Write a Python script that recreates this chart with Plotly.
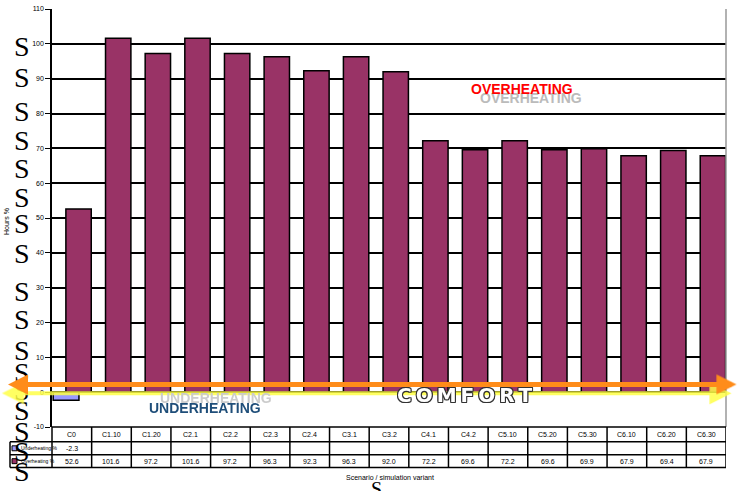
import plotly.graph_objects as go

# ---------------- data ----------------
categories = ["C0", "C1.10", "C1.20", "C2.1", "C2.2", "C2.3", "C2.4", "C3.1", "C3.2",
              "C4.1", "C4.2", "C5.10", "C5.20", "C5.30", "C6.10", "C6.20", "C6.30"]
series_names = ["Underheating %", "Overheating %"]
underheating = [-2.3] + [None] * 16
overheating = [52.6, 101.6, 97.2, 101.6, 97.2, 96.3, 92.3, 96.3, 92.0,
               72.2, 69.6, 72.2, 69.6, 69.9, 67.9, 69.4, 67.9]
tick_vals = [-10, 0, 10, 20, 30, 40, 50, 60, 70, 80, 90, 100, 110]
tick_text = ["-10", "0", "10", "20", "30", "40", "50", "60", "70", "80", "90", "100", "110"]
x_title = "Scenario / simulation variant"
y_title = "Hours %"

W, H = 743, 491
L, R, T, B = 52, 726, 5, 427


def X(px):
    return (px - L) / (R - L)


def Y(py):
    return (B - py) / (B - T)


n = len(categories)
idx = list(range(n))

fig = go.Figure()
fig.add_trace(go.Bar(x=idx, y=underheating, name=series_names[0], width=0.65, offset=-0.47,
                     marker=dict(color="#9999FF", line=dict(color="black", width=1.5))))
fig.add_trace(go.Bar(x=idx, y=overheating, name=series_names[1], width=0.64, offset=-0.15,
                     marker=dict(color="#993366", line=dict(color="black", width=1.5))))

fig.update_layout(
    width=W, height=H,
    margin=dict(l=L, r=W - R, t=T, b=H - B),
    paper_bgcolor="white", plot_bgcolor="white",
    barmode="overlay", showlegend=False,
    font=dict(family="Liberation Sans, sans-serif", color="black"),
    xaxis=dict(range=[-0.5, n - 0.5], showticklabels=False, showgrid=False, zeroline=False,
               showline=False, ticks=""),
    yaxis=dict(range=[-10, 110], tickvals=tick_vals, ticktext=tick_text, showgrid=True,
               gridcolor="black", gridwidth=1.5, zeroline=False, showline=True,
               linecolor="black", linewidth=1.5, ticks="outside", ticklen=5,
               tickcolor="black", tickfont=dict(size=7, color="black")),
)

shapes = []
# right border of plot
shapes.append(dict(type="line", xref="paper", yref="paper", x0=1, x1=1, y0=0, y1=1,
                   line=dict(color="#999999", width=1.5)))
# table
row_y = [427, 442, 455, 468]
for py in row_y:
    shapes.append(dict(type="line", xref="paper", yref="paper", x0=0, x1=1, y0=Y(py), y1=Y(py),
                       line=dict(color="black", width=1.5)))
for py in row_y[1:]:
    shapes.append(dict(type="line", xref="paper", yref="paper", x0=X(10), x1=0, y0=Y(py), y1=Y(py),
                       line=dict(color="black", width=1.5)))
shapes.append(dict(type="line", xref="paper", yref="paper", x0=X(10), x1=X(10), y0=Y(442), y1=Y(468),
                   line=dict(color="black", width=1.5)))
shapes.append(dict(type="line", xref="paper", yref="paper", x0=0, x1=0, y0=Y(427), y1=Y(468),
                   line=dict(color="black", width=1.5)))
for i in range(n):
    shapes.append(dict(type="line", xref="x", yref="paper", x0=i + 0.5, x1=i + 0.5, y0=Y(427), y1=Y(468),
                       line=dict(color="black", width=1.5)))
# legend keys in table
key_colors = ["#9999FF", "#993366"]
for k, (py0, py1) in enumerate([(442, 455), (455, 468)]):
    cy = (py0 + py1) / 2
    shapes.append(dict(type="rect", xref="paper", yref="paper", x0=X(12), x1=X(17),
                       y0=Y(cy + 2.5), y1=Y(cy - 2.5), fillcolor=key_colors[k],
                       line=dict(color="black", width=1)))

ann = []
# table texts
for i, c in enumerate(categories):
    ann.append(dict(x=i, y=Y(434.5), xref="x", yref="paper", text=c, showarrow=False,
                    font=dict(size=7)))
    if underheating[i] is not None:
        ann.append(dict(x=i, y=Y(448.5), xref="x", yref="paper", text=f"{underheating[i]:.1f}",
                        showarrow=False, font=dict(size=7)))
    ann.append(dict(x=i, y=Y(461.5), xref="x", yref="paper", text=f"{overheating[i]:.1f}",
                    showarrow=False, font=dict(size=7)))
for k, py in enumerate([448.5, 461.5]):
    ann.append(dict(x=X(19), y=Y(py), xref="paper", yref="paper", text=series_names[k], showarrow=False,
                    xanchor="left", font=dict(size=5)))
# axis titles
ann.append(dict(x=X(390), y=Y(478), xref="paper", yref="paper", text=x_title, showarrow=False,
                font=dict(size=7)))
ann.append(dict(x=X(7), y=Y(220), xref="paper", yref="paper", text=y_title, showarrow=False,
                textangle=-90, font=dict(size=7)))

# stray S glyphs on the left
s_y = [43, 74, 108, 138, 166, 195, 222, 252, 290, 318, 350, 372, 390, 410, 432, 452, 472]
for py in s_y:
    ann.append(dict(x=X(22), y=Y(py), xref="paper", yref="paper", text="S", showarrow=False,
                    font=dict(family="Liberation Serif, serif", size=28, color="black")))
ann.append(dict(x=X(376), y=Y(490), xref="paper", yref="paper", text="S", showarrow=False,
                yanchor="middle", font=dict(family="Liberation Serif, serif", size=20, color="black")))

# arrows (tip at x,y; tail offset in pixels)
ann.append(dict(x=X(2), y=Y(393), ax=733 - 2, ay=0, xref="paper", yref="paper",
                text="", showarrow=True, arrowside="end+start",
                arrowhead=2, arrowsize=1.1, arrowwidth=4, arrowcolor="rgba(255,255,70,0.85)"))
ann.append(dict(x=X(8), y=Y(384), ax=738 - 8, ay=0, xref="paper", yref="paper",
                text="", showarrow=True, arrowside="end+start",
                arrowhead=2, arrowsize=0.8, arrowwidth=5, arrowcolor="#FF8C1A"))

# zone labels
ann.append(dict(x=X(531), y=Y(95), xref="paper", yref="paper", text="<b>OVERHEATING</b>",
                showarrow=False, font=dict(family="Liberation Sans, sans-serif", size=14,
                                           color="#BBBBBB")))
ann.append(dict(x=X(522), y=Y(86), xref="paper", yref="paper", text="<b>OVERHEATING</b>",
                showarrow=False, font=dict(family="Liberation Sans, sans-serif", size=14,
                                           color="#FF0000")))
ann.append(dict(x=X(216), y=Y(398), xref="paper", yref="paper", text="<b>UNDERHEATING</b>",
                showarrow=False, font=dict(family="Liberation Sans, sans-serif", size=14,
                                           color="#CCCCCC")))
ann.append(dict(x=X(205), y=Y(408), xref="paper", yref="paper", text="<b>UNDERHEATING</b>",
                showarrow=False, font=dict(family="Liberation Sans, sans-serif", size=14,
                                           color="#1F4E79")))
thin = "\u2009"
ann.append(dict(x=X(465), y=Y(395), xref="paper", yref="paper",
                text="<b>" + thin.join("COMFORT") + "</b>",
                showarrow=False, font=dict(family="DejaVu Sans, sans-serif", size=20, color="white",
                                           shadow="1px 1px 0 #333, -1px -1px 0 #333, 1px -1px 0 #333, -1px 1px 0 #333, 0 1px 0 #333, 0 -1px 0 #333, 1px 0 0 #333, -1px 0 0 #333")))

for a in ann:
    if not a.get("showarrow", True) or a.get("text", "") != "":
        a.setdefault("xanchor", "center")
        a.setdefault("yanchor", "middle")

fig.update_layout(shapes=shapes, annotations=ann)
fig.write_html("out.html")
